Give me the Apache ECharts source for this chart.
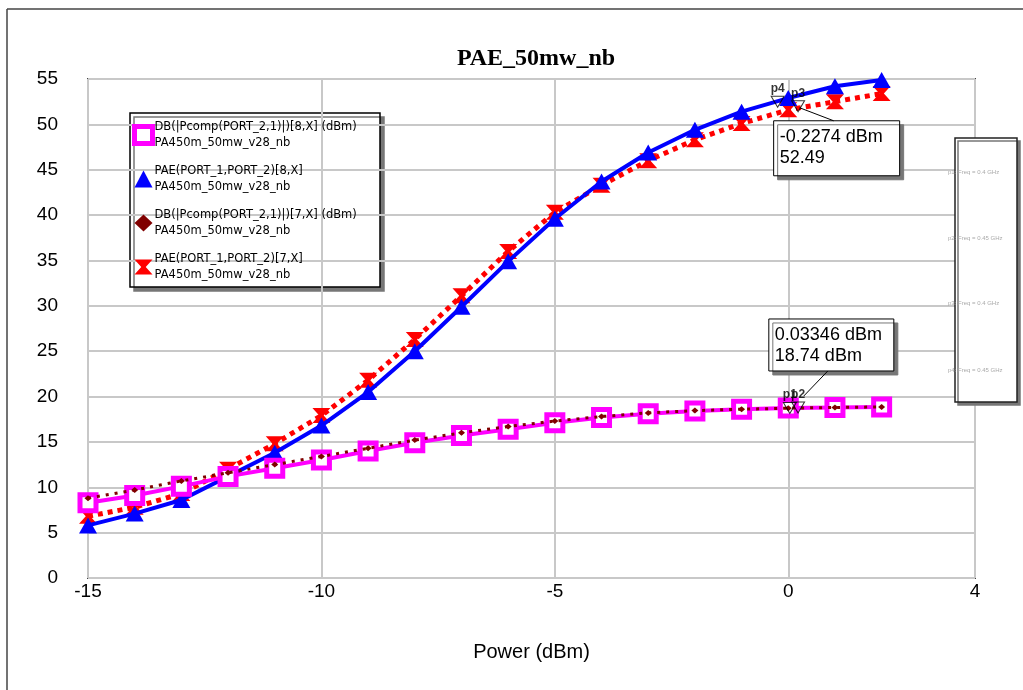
<!DOCTYPE html>
<html>
<head>
<meta charset="utf-8">
<script src="https://cdn.jsdelivr.net/npm/echarts@6/dist/echarts.min.js"></script>
<style>
html,body{margin:0;padding:0;background:#fff;}
#chart{width:1023px;height:690px;}
</style>
</head>
<body>
<div id="chart"></div>
<script>
// ---- data ----
const powerDbm = [-15,-14,-13,-12,-11,-10,-9,-8,-7,-6,-5,-4,-3,-2,-1,0,1,2];
const poutCase8 = [8.3,9.1,10.1,11.2,12.1,13.0,14.0,14.9,15.7,16.4,17.1,17.7,18.1,18.4,18.6,18.74,18.8,18.85];
const paeCase8  = [5.8,7.1,8.6,11.2,13.8,16.8,20.5,25.0,29.9,34.9,39.6,43.7,46.9,49.4,51.4,52.9,54.2,54.9];
const poutCase7 = [8.8,9.7,10.7,11.6,12.5,13.4,14.3,15.2,16.0,16.7,17.3,17.8,18.2,18.45,18.6,18.72,18.8,18.85];
const paeCase7  = [6.8,7.8,9.3,12.0,14.8,17.9,21.8,26.3,31.1,36.0,40.3,43.3,46.0,48.3,50.1,51.6,52.5,53.4];

const seriesNames = [
  'DB(|Pcomp(PORT_2,1)|)[8,X] (dBm)\nPA450m_50mw_v28_nb',
  'PAE(PORT_1,PORT_2)[8,X]\nPA450m_50mw_v28_nb',
  'DB(|Pcomp(PORT_2,1)|)[7,X] (dBm)\nPA450m_50mw_v28_nb',
  'PAE(PORT_1,PORT_2)[7,X]\nPA450m_50mw_v28_nb'
];

const markerNames = ['p1','p2','p3','p4'];
const markerX = [0.03346, 0.21, 0.21, -0.2274];
const markerY = [18.74, 18.8, 52.0, 52.49];
const markerFreqs = ['p1: Freq = 0.4 GHz','p2: Freq = 0.45 GHz','p3: Freq = 0.4 GHz','p4: Freq = 0.45 GHz'];
const readoutTop = ['-0.2274 dBm','52.49'];
const readoutBottom = ['0.03346 dBm','18.74 dBm'];

const xTicks = { min: -15, max: 4, interval: 5 };
const yTicks = { min: 0, max: 55, interval: 5 };

function pairs(ys){ return powerDbm.map((x,i)=>[x, ys[i]]); }

const hourglass = 'path://M0,0 L12,0 L7.5,5 L12,10 L0,10 L4.5,5 Z';
const invTri = 'path://M0,0 L10,0 L5,9 Z';

const chart = echarts.init(document.getElementById('chart'));
const option = {
  animation: false,
  backgroundColor: '#fff',
  title: {
    text: 'PAE_50mw_nb', left: 531, top: 42, textAlign: 'center',
    textStyle: { fontFamily: 'Liberation Serif', fontWeight: 'bold', fontSize: 24, color: '#000' }
  },
  grid: { left: 88, top: 79, width: 887, height: 499, show: true, borderColor: '#444', borderWidth: 2, backgroundColor: 'transparent' },
  xAxis: {
    type: 'value', min: xTicks.min, max: xTicks.max, interval: xTicks.interval,
    name: 'Power (dBm)', nameLocation: 'middle', nameGap: 64,
    nameTextStyle: { fontFamily: 'Liberation Sans', fontSize: 20, color: '#000' },
    axisLine: { show: false }, axisTick: { show: false },
    axisLabel: { fontFamily: 'Liberation Sans', fontSize: 19, color: '#000', margin: 4, showMaxLabel: true },
    splitLine: { show: true, lineStyle: { color: '#c8c8c8', width: 2 } }
  },
  yAxis: {
    type: 'value', min: yTicks.min, max: yTicks.max, interval: yTicks.interval,
    axisLine: { show: false }, axisTick: { show: false },
    axisLabel: { fontFamily: 'Liberation Sans', fontSize: 19, color: '#000', margin: 30 },
    splitLine: { show: true, lineStyle: { color: '#c8c8c8', width: 2 } }
  },
  legend: {
    orient: 'vertical', left: 132, top: 119, padding: 0, itemGap: 12,
    itemWidth: 18, itemHeight: 17,
    textStyle: { fontFamily: 'DejaVu Sans', fontSize: 11.5, lineHeight: 16, color: '#000', padding: [0, 0, 0, -3] },
    data: [
      { name: seriesNames[0], icon: 'rect', itemStyle: { color: '#ffffff', borderColor: '#ff00ff', borderWidth: 5 } },
      { name: seriesNames[1], icon: 'triangle', itemStyle: { color: '#0000ff' } },
      { name: seriesNames[2], icon: 'diamond', itemStyle: { color: '#800000' } },
      { name: seriesNames[3], icon: hourglass, itemStyle: { color: '#ff0000' } }
    ]
  },
  series: [
    {
      name: seriesNames[3], type: 'line', data: pairs(paeCase7), z: 2,
      symbol: hourglass, symbolSize: [18, 15],
      itemStyle: { color: '#ff0000' },
      lineStyle: { color: '#ff0000', width: 5, type: [5, 5] }
    },
    {
      name: seriesNames[1], type: 'line', data: pairs(paeCase8), z: 3,
      symbol: 'triangle', symbolSize: [18, 16],
      itemStyle: { color: '#0000ff' },
      lineStyle: { color: '#0000ff', width: 4 }
    },
    {
      name: seriesNames[0], type: 'line', data: pairs(poutCase8), z: 4,
      symbol: 'rect', symbolSize: 16,
      itemStyle: { color: '#ffffff', borderColor: '#ff00ff', borderWidth: 5 },
      lineStyle: { color: '#ff00ff', width: 4 }
    },
    {
      name: seriesNames[2], type: 'line', data: pairs(poutCase7), z: 5,
      symbol: 'diamond', symbolSize: [7, 6],
      itemStyle: { color: '#800000' },
      lineStyle: { color: '#800000', width: 3, type: [3, 6] }
    },
    {
      name: 'markers', type: 'scatter', z: 10,
      data: markerX.map((x,i)=>({ value: [x, markerY[i]], name: markerNames[i] })),
      symbol: invTri, symbolSize: [13, 11],
      itemStyle: { color: 'rgba(255,255,255,0)', borderColor: '#000', borderWidth: 1 },
      label: { show: true, position: 'top', distance: 1, formatter: p => p.name,
               fontFamily: 'Liberation Sans', fontSize: 12, fontWeight: 'bold', color: '#000' }
    }
  ]
};
chart.setOption(option);

function px(x, y){ return chart.convertToPixel({ gridIndex: 0 }, [x, y]); }

const pTop = px(markerX[3], markerY[3]);
const pBot = px(markerX[0], markerY[0]);

function readout(x, y, w, h, lines){
  return {
    type: 'group', x: x, y: y, z: 100,
    children: [
      { type: 'rect', shape: { x: 0, y: 0, width: w, height: h },
        style: { fill: '#fff', stroke: '#000', lineWidth: 1, shadowColor: '#777', shadowOffsetX: 4, shadowOffsetY: 4, shadowBlur: 0 } },
      { type: 'text', x: 6, y: 6,
        style: { text: lines.join('\n'), fontFamily: 'Liberation Sans', fontSize: 18, lineHeight: 21, fill: '#000' } }
    ]
  };
}

const graphics = [
  // outer frame lines
  { type: 'line', shape: { x1: 7, y1: 9, x2: 1023, y2: 9 }, style: { stroke: '#444', lineWidth: 1.5 } },
  { type: 'line', shape: { x1: 7, y1: 9, x2: 7, y2: 690 }, style: { stroke: '#444', lineWidth: 1.5 } },
  // legend box
  { type: 'rect', z: -1, shape: { x: 130, y: 113, width: 250, height: 174 },
    style: { fill: '#fff', stroke: '#000', lineWidth: 1.5, shadowColor: '#777', shadowOffsetX: 4, shadowOffsetY: 4, shadowBlur: 0 } },
  // right marker panel
  { type: 'rect', z: 50, shape: { x: 955, y: 138, width: 62, height: 264 },
    style: { fill: '#fff', stroke: '#222', lineWidth: 1.5, shadowColor: '#777', shadowOffsetX: 3, shadowOffsetY: 3, shadowBlur: 0 } },
  // leader lines
  { type: 'line', z: 99, shape: { x1: pTop[0] + 56, y1: pTop[1] + 19, x2: pTop[0] + 22, y2: pTop[1] + 6 }, style: { stroke: '#000', lineWidth: 1 } },
  { type: 'line', z: 99, shape: { x1: pBot[0] + 38, y1: pBot[1] - 37, x2: pBot[0] + 14, y2: pBot[1] - 12 }, style: { stroke: '#000', lineWidth: 1 } },
  readout(pTop[0] - 4, pTop[1] + 19, 126, 55, readoutTop),
  readout(pBot[0] - 21, pBot[1] - 89, 125, 52, readoutBottom)
];
const freqY = [172, 238, 303, 370];
markerFreqs.forEach((t, i) => {
  graphics.push({ type: 'text', z: 60, x: 948, y: freqY[i] - 3,
    style: { text: t, fontFamily: 'Liberation Sans', fontSize: 6, fill: '#aaa' } });
});
chart.setOption({ graphic: graphics });
</script>
</body>
</html>
